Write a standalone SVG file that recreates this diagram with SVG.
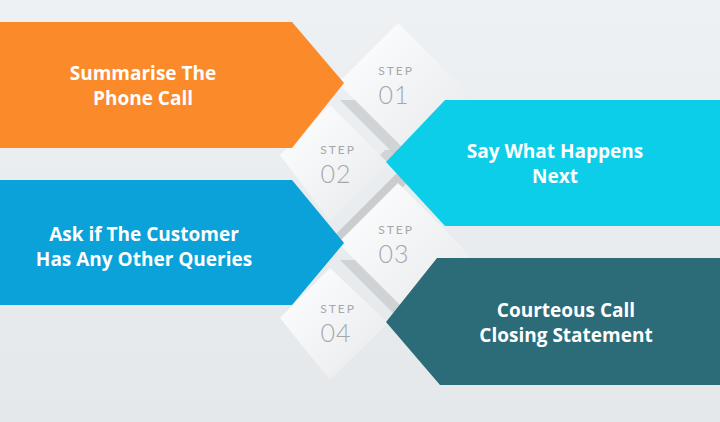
<svg xmlns="http://www.w3.org/2000/svg" width="720" height="422" viewBox="0 0 720 422">
<defs>
<linearGradient id="bg" x1="0" y1="0" x2="0" y2="1"><stop offset="0" stop-color="#eef1f3"/><stop offset="1" stop-color="#e4e8eb"/></linearGradient>
<linearGradient id="wh" x1="0" y1="0" x2="1" y2="1"><stop offset="0" stop-color="#ffffff"/><stop offset="1" stop-color="#e6e9ec"/></linearGradient>
</defs>
<style>
.t{font-family:"Open Sans","Liberation Sans",sans-serif;font-weight:700;font-size:19px;fill:#fff;text-anchor:middle}
.s{font-family:"Lato","Liberation Sans",sans-serif;fill:#a4a8ac;text-anchor:middle}
.st{font-size:12px;letter-spacing:2px}
.num{font-size:25px;font-weight:300;letter-spacing:1px}
.band{fill:#c9cdd0}
.dia{fill:url(#wh)}
</style>
<rect width="720" height="422" fill="url(#bg)"/>
<g id="bands">
<polygon class="band" points="330,240 350,240 420,170 400,170"/>
<polygon class="band" points="340,100 360,100 420,160 400,160" opacity="0.8"/>
<polygon class="band" points="340,260 360,260 420,320 400,320" opacity="0.8"/>
<polygon class="band" points="340,195 355,195 400,150 385,150" opacity="0.8"/>
</g>
<g id="step1"><polygon class="dia" points="338,83 398,23 470,95 410,155"/><text class="s st" x="396" y="75">STEP</text><text class="s num" x="394" y="104">01</text></g>
<g id="step2"><polygon class="dia" points="280,155 330,105 388,163 330,221"/><text class="s st" x="338" y="154">STEP</text><text class="s num" x="336" y="183">02</text></g>
<g id="step3"><polygon class="dia" points="338,243 398,183 470,255 410,315"/><text class="s st" x="396" y="234">STEP</text><text class="s num" x="394" y="263">03</text></g>
<g id="step4"><polygon class="dia" points="280,318 330,268 388,323 330,380"/><text class="s st" x="338" y="313">STEP</text><text class="s num" x="336" y="342">04</text></g>
<g id="n1"><polygon points="0,22 292,22 344,83 292,148 0,148" fill="#fb8a2a"/><text class="t" x="143" y="80">Summarise The</text><text class="t" x="143" y="105">Phone Call</text></g>
<g id="n2"><polygon points="720,100 445,100 386,162 445,226 720,226" fill="#0ccee8"/><text class="t" x="555" y="158">Say What Happens</text><text class="t" x="555" y="183">Next</text></g>
<g id="n3"><polygon points="0,180 292,180 344,243 292,305 0,305" fill="#0aa2d9"/><text class="t" x="144" y="241">Ask if The Customer</text><text class="t" x="144" y="266">Has Any Other Queries</text></g>
<g id="n4"><polygon points="720,258 437,258 386,322 440,385 720,385" fill="#2c6c78"/><text class="t" x="566" y="317">Courteous Call</text><text class="t" x="566" y="342">Closing Statement</text></g>
<g id="connectors"/>
</svg>
